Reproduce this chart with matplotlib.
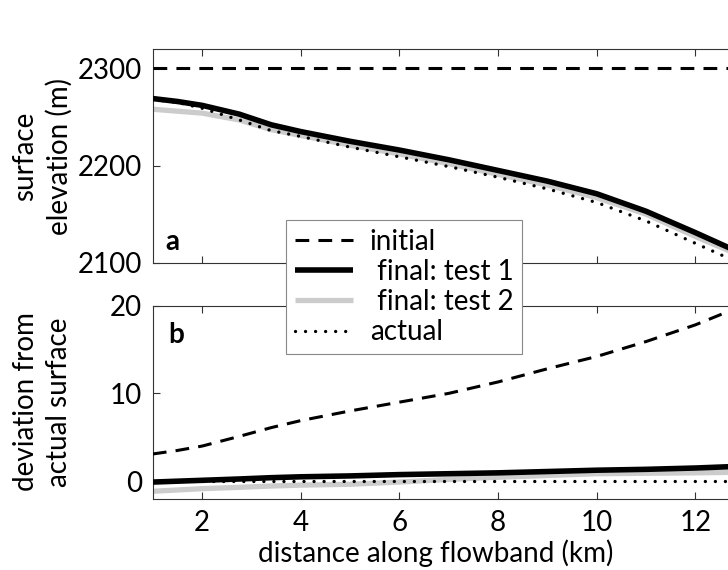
import numpy as np
import matplotlib
matplotlib.use('Agg')
import matplotlib.pyplot as plt

plt.rcParams['font.family'] = ['Lato', 'DejaVu Sans']

# distance along flowband (km)
x_km = [1, 1.5, 2, 2.75, 3.4, 4, 5, 6, 7, 8, 9, 10, 11, 12, 12.7]

# panel a: surface elevation (m)
elev_initial = [2300] * len(x_km)
elev_test1 = [2269, 2266, 2262, 2253, 2242, 2235, 2225, 2216, 2206, 2195, 2184, 2171, 2153, 2131, 2115]
elev_test2 = [2258, 2256, 2254, 2247, 2237, 2231, 2221, 2212, 2202, 2191, 2180, 2167, 2150, 2127, 2112]
elev_actual = [2268, 2265, 2259, 2247, 2236, 2230, 2219, 2209, 2199, 2188, 2176, 2162, 2143, 2120, 2104]

# panel b: deviation from actual surface
dev_initial = [3.1, 3.5, 4.0, 5.1, 6.1, 6.9, 8.0, 9.0, 10.0, 11.3, 12.8, 14.2, 15.9, 17.8, 19.4]
dev_test1 = [-0.1, 0.0, 0.1, 0.25, 0.4, 0.5, 0.6, 0.75, 0.85, 0.95, 1.1, 1.25, 1.35, 1.5, 1.65]
dev_test2 = [-1.15, -1.0, -0.85, -0.7, -0.55, -0.45, -0.35, -0.1, 0.2, 0.45, 0.65, 0.85, 0.9, 0.95, 1.0]
dev_actual = [0] * len(x_km)

labels = ['initial', ' final: test 1', ' final: test 2', 'actual']
x_ticks = [2, 4, 6, 8, 10, 12]

fs = 20
fig = plt.figure(figsize=(7.28, 5.7), dpi=100)
# axes run past the right edge of the figure like the cropped original
ax1 = fig.add_axes([0.210, 0.539, 0.813, 0.375])
ax2 = fig.add_axes([0.210, 0.125, 0.813, 0.339])

styles = [
    dict(color='black', lw=2.2, ls=(0, (4.5, 3))),
    dict(color='black', lw=4.0, solid_capstyle='butt'),
    dict(color='#cccccc', lw=3.8, solid_capstyle='butt'),
    dict(color='black', lw=2.4, ls=(0, (0.01, 3.0)), dash_capstyle='round'),
]

top_series = [elev_initial, elev_test1, elev_test2, elev_actual]
bot_series = [dev_initial, dev_test1, dev_test2, dev_actual]
order = [2, 1, 3, 0]  # gray under black, dots on top

handles = [None] * 4
for i in order:
    h, = ax1.plot(x_km, top_series[i], **styles[i], zorder=2 + order.index(i))
    ax2.plot(x_km, bot_series[i], **styles[i], zorder=2 + order.index(i))
    handles[i] = h

for ax in (ax1, ax2):
    ax.set_xlim(1, 13)
    ax.set_xticks(x_ticks)
    ax.tick_params(direction='in', length=5, width=0.8, top=True, right=True,
                   labelsize=fs, color='#333333', pad=8)
    for sp in ax.spines.values():
        sp.set_color('#333333')
        sp.set_linewidth(0.8)

ax1.set_ylim(2100, 2320)
ax1.set_yticks([2100, 2200, 2300])
ax1.tick_params(labelbottom=False)
ax2.set_ylim(-2, 20)
ax2.set_yticks([0, 10, 20])

ax1.text(1.39, 2121, 'a', fontsize=fs, fontweight='bold', ha='center', va='center')
ax2.text(1.47, 16.7, 'b', fontsize=fs, fontweight='bold', ha='center', va='center')

fig.text(0.058, 0.726, 'surface\nelevation (m)', rotation=90, ha='center', va='center',
         fontsize=fs, multialignment='center', linespacing=1.35)
fig.text(0.058, 0.295, 'deviation from\nactual surface', rotation=90, ha='center', va='center',
         fontsize=fs, multialignment='center', linespacing=1.35)
fig.text(0.598, 0.014, 'distance along flowband (km)', ha='center', va='baseline', fontsize=fs)

leg = fig.legend(handles, labels, loc='center', bbox_to_anchor=(0.555, 0.4965),
                 fontsize=fs, handlelength=2.1, labelspacing=0.15, borderpad=0.3,
                 fancybox=False, framealpha=1, edgecolor='#888888', handletextpad=0.6)
leg.get_frame().set_linewidth(0.8)

fig.savefig('out.png', dpi=100)
